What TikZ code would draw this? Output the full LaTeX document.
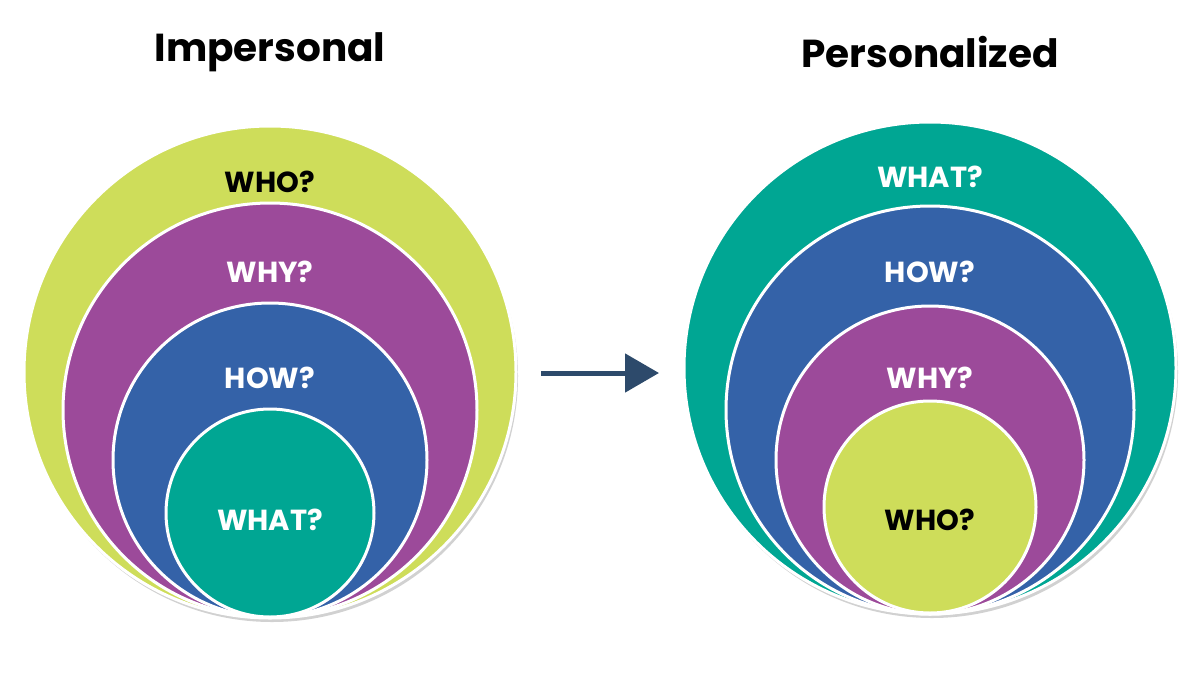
\documentclass[tikz,border=0pt]{standalone}
\usepackage{fontspec}
\setmainfont{Poppins}
\usetikzlibrary{arrows.meta}
\definecolor{cyel}{HTML}{CEDD5A}
\definecolor{cpur}{HTML}{9C4A9A}
\definecolor{cblu}{HTML}{3462A8}
\definecolor{ctea}{HTML}{00A693}
\definecolor{carr}{HTML}{2D4A6B}
\begin{document}
\begin{tikzpicture}[x=1pt,y=-1pt,
  ring/.style={draw=white,line width=3pt},
  lab/.style={font=\fontsize{29}{32}\selectfont\bfseries},
  ttl/.style={font=\fontsize{39}{44}\selectfont\bfseries}]
\useasboundingbox (0,0) rectangle (1200,681);
\fill[white] (0,0) rectangle (1200,681);
% left
\fill[black!18] (272,376) circle (246);
\fill[ring,fill=cyel] (270,372) circle (246);
\fill[ring,fill=cpur] (270,410) circle (207);
\fill[ring,fill=cblu] (270,460) circle (157);
\fill[ring,fill=ctea] (270,513) circle (104);
\node[lab,text=black] (l1) at (270,182) {WHO?};
\node[lab,text=white] (l2) at (270,272) {WHY?};
\node[lab,text=white] (l3) at (270,378) {HOW?};
\node[lab,text=white] (l4) at (270,520) {WHAT?};
\node[ttl] (t1) at (270,52) {Impersonal};
% right
\fill[black!18] (932,372) circle (246);
\fill[ring,fill=ctea] (930,368) circle (246);
\fill[ring,fill=cblu] (930,410) circle (204);
\fill[ring,fill=cpur] (930,460) circle (154);
\fill[ring,fill=cyel] (930,507) circle (106);
\node[lab,text=white] (r1) at (930,177) {WHAT?};
\node[lab,text=white] (r2) at (930,272) {HOW?};
\node[lab,text=white] (r3) at (930,378) {WHY?};
\node[lab,text=black] (r4) at (930,520) {WHO?};
\node[ttl] (t2) at (930,52) {Personalized};
% arrow
\coordinate (a1) at (541,373);
\coordinate (a2) at (659,373);
\draw[carr,line width=5pt,-{Triangle[length=34pt,width=38pt]}] (a1) -- (a2);
\end{tikzpicture}
\end{document}
